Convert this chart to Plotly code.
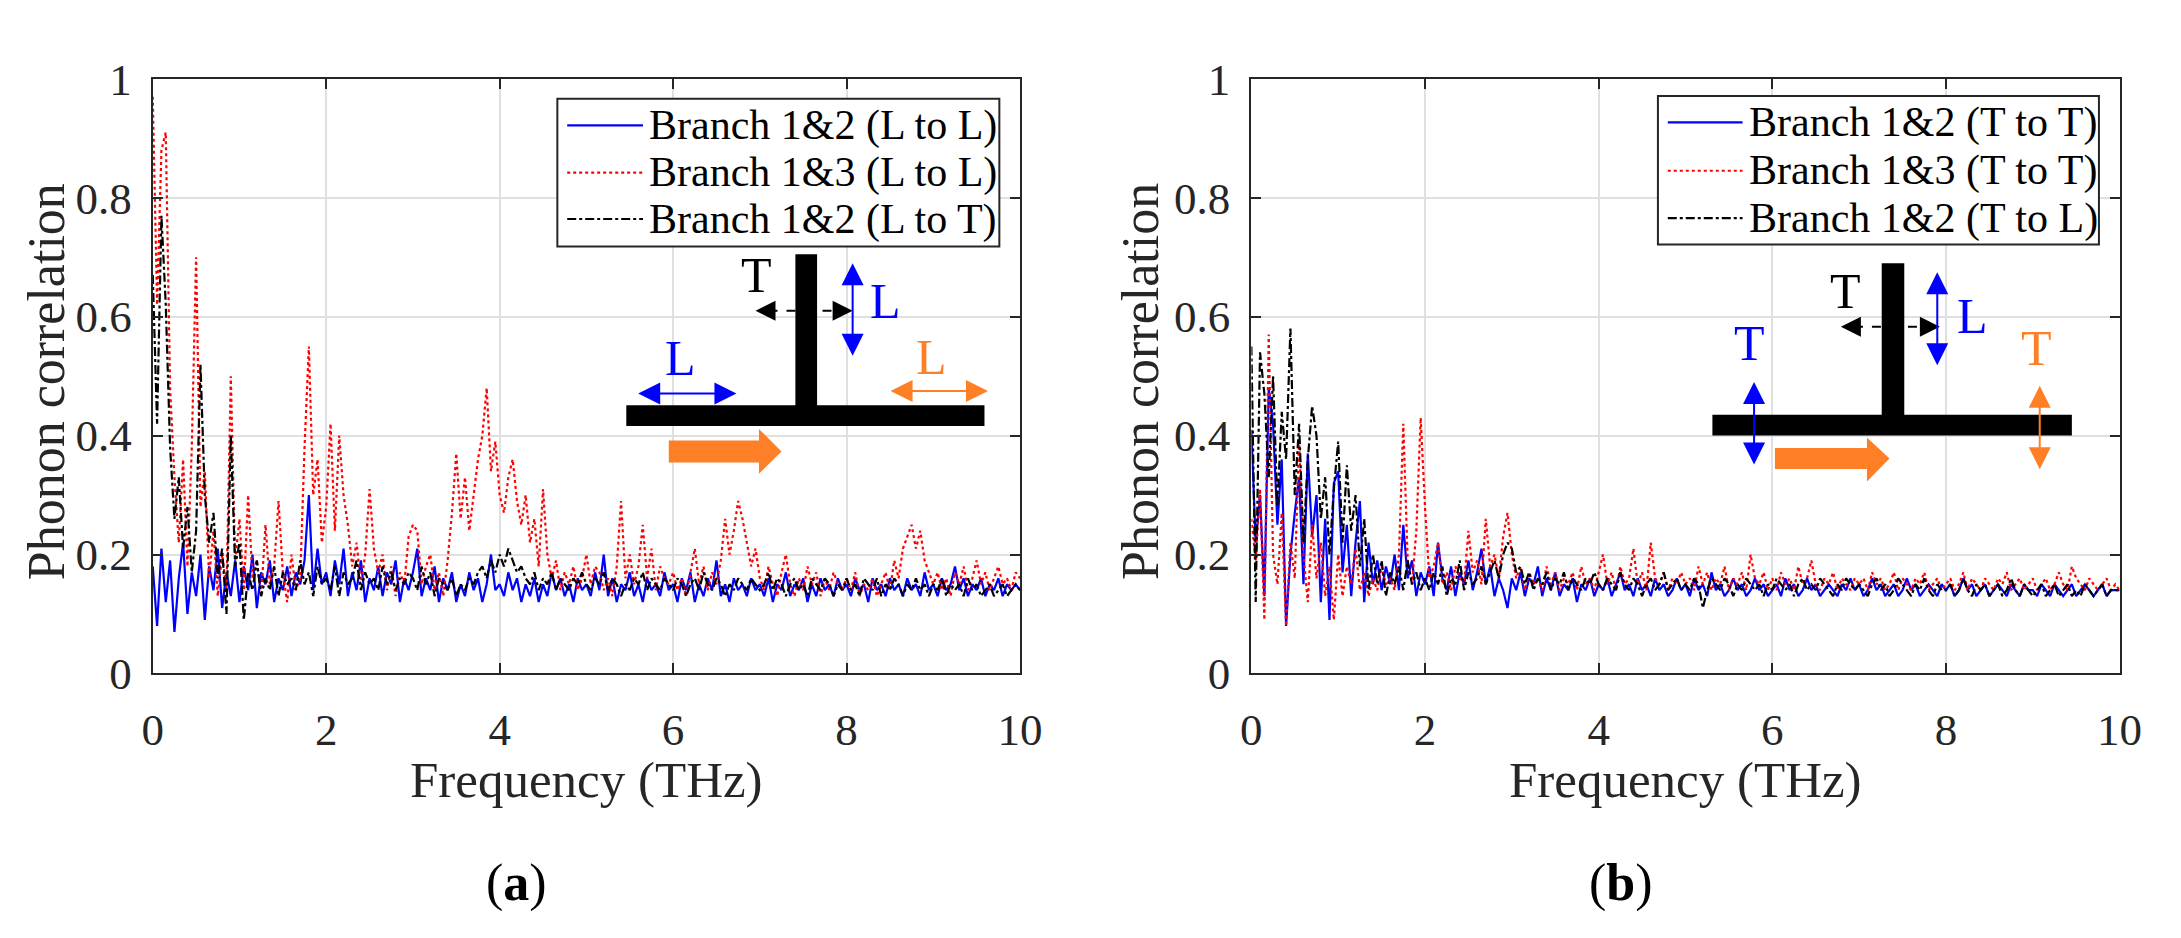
####################################################
# Phonon correlation of a T-junction, two panels  #
####################################################

import numpy as np
import plotly.graph_objects as go

# frequency grid (THz), 0.05 THz steps
freq = np.round(np.arange(0, 10.001, 0.05), 2)

# panel (a): L-polarised incident phonons
blue_a = [  # Branch 1&2 (L to L)
    0.18, 0.08, 0.21, 0.12, 0.19, 0.07, 0.16, 0.22, 0.10, 0.17, 0.13, 0.20, 0.09, 0.18, 0.14, 0.21, 0.11, 0.17, 0.13, 0.19,
    0.12, 0.18, 0.14, 0.20, 0.11, 0.17, 0.15, 0.19, 0.12, 0.16, 0.14, 0.18, 0.13, 0.17, 0.15, 0.19, 0.30, 0.14, 0.21, 0.15,
    0.17, 0.13, 0.19, 0.15, 0.21, 0.13, 0.17, 0.14, 0.19, 0.12, 0.16, 0.14, 0.18, 0.13, 0.17, 0.15, 0.19, 0.12, 0.16, 0.14,
    0.17, 0.21, 0.13, 0.16, 0.14, 0.18, 0.12, 0.16, 0.14, 0.17, 0.12, 0.15, 0.13, 0.17, 0.14, 0.16, 0.12, 0.15, 0.20, 0.14,
    0.15, 0.13, 0.17, 0.14, 0.16, 0.12, 0.15, 0.13, 0.16, 0.12, 0.15, 0.13, 0.17, 0.14, 0.16, 0.13, 0.15, 0.12, 0.16, 0.14,
    0.15, 0.13, 0.17, 0.14, 0.20, 0.13, 0.16, 0.12, 0.15, 0.14, 0.17, 0.13, 0.15, 0.12, 0.16, 0.14, 0.15, 0.13, 0.17, 0.14,
    0.15, 0.12, 0.16, 0.14, 0.17, 0.12, 0.15, 0.13, 0.16, 0.14, 0.19, 0.13, 0.15, 0.12, 0.16, 0.14, 0.15, 0.13, 0.16, 0.14,
    0.15, 0.13, 0.16, 0.12, 0.15, 0.14, 0.17, 0.13, 0.15, 0.14, 0.16, 0.12, 0.15, 0.13, 0.16, 0.14, 0.15, 0.13, 0.16, 0.14,
    0.15, 0.13, 0.16, 0.14, 0.15, 0.12, 0.16, 0.14, 0.15, 0.13, 0.16, 0.14, 0.15, 0.13, 0.16, 0.14, 0.15, 0.13, 0.17, 0.14,
    0.15, 0.13, 0.16, 0.14, 0.15, 0.18, 0.14, 0.16, 0.13, 0.15, 0.14, 0.16, 0.13, 0.15, 0.14, 0.16, 0.13, 0.15, 0.14, 0.15,
    0.14]
red_a = [  # Branch 1&3 (L to L)
    0.97, 0.62, 0.88, 0.91, 0.48, 0.33, 0.22, 0.36, 0.18, 0.38, 0.70, 0.28, 0.34, 0.16, 0.24, 0.13, 0.20, 0.14, 0.50, 0.19,
    0.26, 0.14, 0.30, 0.16, 0.19, 0.13, 0.25, 0.15, 0.18, 0.29, 0.17, 0.12, 0.20, 0.14, 0.16, 0.38, 0.55, 0.30, 0.36, 0.22,
    0.28, 0.42, 0.24, 0.40, 0.30, 0.25, 0.18, 0.22, 0.15, 0.20, 0.31, 0.21, 0.17, 0.20, 0.14, 0.18, 0.13, 0.17, 0.15, 0.23,
    0.25, 0.24, 0.15, 0.18, 0.20, 0.14, 0.17, 0.13, 0.19, 0.27, 0.37, 0.26, 0.33, 0.24, 0.30, 0.36, 0.40, 0.48, 0.34, 0.39,
    0.30, 0.27, 0.33, 0.36, 0.29, 0.25, 0.30, 0.22, 0.26, 0.18, 0.31, 0.20, 0.16, 0.19, 0.14, 0.17, 0.15, 0.18, 0.14, 0.16,
    0.20, 0.15, 0.18, 0.17, 0.14, 0.16, 0.13, 0.18, 0.29, 0.16, 0.20, 0.15, 0.18, 0.25, 0.16, 0.21, 0.14, 0.18, 0.16, 0.15,
    0.17, 0.14, 0.16, 0.13, 0.17, 0.21, 0.15, 0.18, 0.14, 0.17, 0.15, 0.19, 0.26, 0.20, 0.24, 0.29, 0.26, 0.22, 0.18, 0.21,
    0.16, 0.14, 0.18, 0.15, 0.13, 0.17, 0.20, 0.15, 0.13, 0.16, 0.14, 0.18, 0.15, 0.17, 0.13, 0.16, 0.14, 0.17, 0.15, 0.14,
    0.16, 0.14, 0.17, 0.13, 0.15, 0.14, 0.16, 0.13, 0.15, 0.17, 0.14, 0.19, 0.16, 0.21, 0.23, 0.25, 0.21, 0.24, 0.19, 0.17,
    0.15, 0.17, 0.14, 0.16, 0.13, 0.17, 0.15, 0.18, 0.14, 0.16, 0.19, 0.15, 0.17, 0.14, 0.16, 0.18, 0.15, 0.16, 0.14, 0.17,
    0.16]
black_a = [  # Branch 1&2 (L to T)
    0.67, 0.42, 0.77, 0.62, 0.38, 0.26, 0.33, 0.21, 0.28, 0.17, 0.24, 0.52, 0.30, 0.22, 0.27, 0.16, 0.21, 0.10, 0.40, 0.18,
    0.22, 0.09, 0.17, 0.14, 0.19, 0.13, 0.16, 0.14, 0.18, 0.13, 0.17, 0.15, 0.16, 0.14, 0.19, 0.15, 0.17, 0.13, 0.18, 0.15,
    0.16, 0.14, 0.18, 0.13, 0.17, 0.15, 0.16, 0.19, 0.14, 0.17, 0.15, 0.16, 0.14, 0.18, 0.15, 0.17, 0.14, 0.16, 0.15, 0.17,
    0.16, 0.14, 0.18, 0.15, 0.17, 0.13, 0.16, 0.15, 0.14, 0.16, 0.13, 0.15, 0.14, 0.16, 0.15, 0.17, 0.18, 0.16, 0.19, 0.17,
    0.20, 0.18, 0.21, 0.19, 0.17, 0.18, 0.16, 0.15, 0.17, 0.14, 0.16, 0.15, 0.17, 0.14, 0.16, 0.15, 0.14, 0.16, 0.15, 0.17,
    0.15, 0.14, 0.16, 0.15, 0.17, 0.14, 0.16, 0.15, 0.13, 0.15, 0.14, 0.16, 0.15, 0.17, 0.14, 0.16, 0.15, 0.14, 0.16, 0.15,
    0.14, 0.16, 0.15, 0.13, 0.15, 0.16, 0.14, 0.17, 0.15, 0.14, 0.16, 0.15, 0.13, 0.15, 0.14, 0.16, 0.15, 0.14, 0.16, 0.15,
    0.14, 0.15, 0.17, 0.14, 0.16, 0.15, 0.13, 0.15, 0.16, 0.14, 0.15, 0.13, 0.16, 0.15, 0.14, 0.16, 0.15, 0.13, 0.15, 0.14,
    0.16, 0.14, 0.15, 0.13, 0.16, 0.15, 0.14, 0.16, 0.13, 0.15, 0.14, 0.16, 0.15, 0.13, 0.15, 0.14, 0.16, 0.14, 0.15, 0.13,
    0.15, 0.14, 0.16, 0.13, 0.15, 0.14, 0.15, 0.13, 0.16, 0.14, 0.15, 0.13, 0.14, 0.15, 0.13, 0.14, 0.15, 0.13, 0.14, 0.15,
    0.14]

# panel (b): T-polarised incident phonons
blue_b = [  # Branch 1&2 (T to T)
    0.41, 0.22, 0.30, 0.13, 0.48, 0.42, 0.25, 0.36, 0.08, 0.20, 0.27, 0.33, 0.15, 0.37, 0.23, 0.30, 0.12, 0.26, 0.09, 0.32,
    0.34, 0.17, 0.25, 0.13, 0.22, 0.29, 0.12, 0.22, 0.15, 0.19, 0.14, 0.18, 0.15, 0.20, 0.14, 0.25, 0.16, 0.19, 0.13, 0.17,
    0.15, 0.18, 0.13, 0.22, 0.16, 0.14, 0.18, 0.13, 0.17, 0.15, 0.19, 0.14, 0.17, 0.21, 0.15, 0.18, 0.13, 0.16, 0.14, 0.11,
    0.16, 0.14, 0.17, 0.13, 0.16, 0.15, 0.18, 0.13, 0.16, 0.14, 0.17, 0.13, 0.15, 0.14, 0.16, 0.12, 0.15, 0.14, 0.16, 0.13,
    0.15, 0.14, 0.16, 0.13, 0.15, 0.17, 0.14, 0.15, 0.13, 0.16, 0.14, 0.15, 0.13, 0.16, 0.14, 0.15, 0.13, 0.14, 0.16, 0.14,
    0.15, 0.13, 0.16, 0.14, 0.15, 0.13, 0.17, 0.14, 0.15, 0.13, 0.14, 0.16, 0.14, 0.15, 0.13, 0.14, 0.16, 0.14, 0.15, 0.13,
    0.14, 0.15, 0.13, 0.16, 0.14, 0.15, 0.13, 0.14, 0.16, 0.14, 0.15, 0.13, 0.14, 0.15, 0.14, 0.13, 0.15, 0.14, 0.16, 0.14,
    0.15, 0.13, 0.14, 0.16, 0.14, 0.15, 0.13, 0.14, 0.15, 0.13, 0.14, 0.16, 0.14, 0.15, 0.13, 0.14, 0.15, 0.14, 0.13, 0.15,
    0.14, 0.15, 0.13, 0.14, 0.16, 0.14, 0.15, 0.13, 0.14, 0.15, 0.13, 0.14, 0.15, 0.14, 0.13, 0.15, 0.14, 0.13, 0.15, 0.14,
    0.14, 0.13, 0.15, 0.14, 0.13, 0.15, 0.14, 0.13, 0.14, 0.15, 0.13, 0.14, 0.15, 0.14, 0.13, 0.14, 0.15, 0.13, 0.14, 0.14,
    0.14]
red_b = [  # Branch 1&3 (T to T)
    0.26, 0.19, 0.31, 0.09, 0.57, 0.20, 0.15, 0.27, 0.08, 0.22, 0.16, 0.39, 0.20, 0.12, 0.25, 0.16, 0.22, 0.13, 0.18, 0.09,
    0.20, 0.13, 0.18, 0.15, 0.21, 0.14, 0.17, 0.13, 0.16, 0.14, 0.18, 0.15, 0.16, 0.14, 0.20, 0.42, 0.19, 0.15, 0.24, 0.43,
    0.28, 0.16, 0.18, 0.22, 0.15, 0.17, 0.14, 0.18, 0.16, 0.15, 0.24, 0.17, 0.19, 0.15, 0.26, 0.18, 0.20, 0.16, 0.23, 0.27,
    0.20, 0.16, 0.18, 0.14, 0.17, 0.15, 0.16, 0.14, 0.18, 0.15, 0.17, 0.14, 0.16, 0.15, 0.17, 0.14, 0.18, 0.15, 0.16, 0.14,
    0.17, 0.20, 0.15, 0.17, 0.14, 0.18, 0.15, 0.16, 0.21, 0.15, 0.17, 0.14, 0.22, 0.16, 0.15, 0.17, 0.14, 0.16, 0.15, 0.17,
    0.15, 0.16, 0.14, 0.18, 0.15, 0.17, 0.14, 0.16, 0.15, 0.18, 0.14, 0.16, 0.15, 0.17, 0.14, 0.20, 0.16, 0.15, 0.17, 0.14,
    0.16, 0.14, 0.17, 0.15, 0.16, 0.14, 0.18, 0.15, 0.16, 0.19, 0.15, 0.14, 0.16, 0.15, 0.17, 0.14, 0.16, 0.15, 0.14, 0.16,
    0.15, 0.16, 0.14, 0.17, 0.15, 0.16, 0.14, 0.15, 0.17, 0.14, 0.16, 0.15, 0.14, 0.16, 0.15, 0.17, 0.14, 0.15, 0.16, 0.14,
    0.15, 0.16, 0.14, 0.15, 0.17, 0.14, 0.16, 0.15, 0.14, 0.16, 0.15, 0.14, 0.16, 0.15, 0.17, 0.14, 0.15, 0.16, 0.14, 0.15,
    0.16, 0.14, 0.15, 0.16, 0.14, 0.15, 0.17, 0.15, 0.14, 0.18, 0.16, 0.15, 0.14, 0.16, 0.15, 0.14, 0.15, 0.16, 0.14, 0.15,
    0.14]
black_b = [  # Branch 1&2 (T to L)
    0.55, 0.12, 0.54, 0.47, 0.33, 0.50, 0.28, 0.44, 0.36, 0.58, 0.30, 0.42, 0.22, 0.36, 0.45, 0.40, 0.26, 0.33, 0.20, 0.31,
    0.39, 0.22, 0.35, 0.24, 0.30, 0.18, 0.26, 0.14, 0.20, 0.15, 0.19, 0.13, 0.17, 0.15, 0.18, 0.14, 0.19, 0.15, 0.17, 0.14,
    0.16, 0.14, 0.17, 0.15, 0.18, 0.13, 0.16, 0.15, 0.19, 0.14, 0.17, 0.15, 0.16, 0.18, 0.15, 0.17, 0.19, 0.16, 0.20, 0.22,
    0.21, 0.17, 0.18, 0.15, 0.17, 0.14, 0.16, 0.15, 0.17, 0.14, 0.16, 0.15, 0.17, 0.14, 0.16, 0.15, 0.14, 0.16, 0.15, 0.17,
    0.15, 0.14, 0.16, 0.15, 0.14, 0.17, 0.15, 0.14, 0.16, 0.15, 0.13, 0.15, 0.16, 0.14, 0.15, 0.17, 0.14, 0.15, 0.16, 0.14,
    0.15, 0.14, 0.16, 0.15, 0.11, 0.14, 0.16, 0.15, 0.14, 0.16, 0.15, 0.13, 0.15, 0.14, 0.16, 0.15, 0.14, 0.15, 0.13, 0.15,
    0.14, 0.16, 0.15, 0.14, 0.15, 0.13, 0.15, 0.16, 0.14, 0.15, 0.14, 0.16, 0.15, 0.14, 0.13, 0.15, 0.14, 0.16, 0.15, 0.14,
    0.15, 0.14, 0.13, 0.15, 0.16, 0.14, 0.15, 0.13, 0.14, 0.16, 0.15, 0.14, 0.13, 0.15, 0.14, 0.16, 0.14, 0.13, 0.15, 0.14,
    0.14, 0.15, 0.13, 0.14, 0.16, 0.14, 0.13, 0.15, 0.14, 0.15, 0.13, 0.14, 0.15, 0.13, 0.14, 0.16, 0.14, 0.13, 0.15, 0.14,
    0.13, 0.14, 0.15, 0.13, 0.14, 0.15, 0.13, 0.14, 0.15, 0.13, 0.14, 0.13, 0.15, 0.14, 0.13, 0.14, 0.15, 0.13, 0.14, 0.14,
    0.14]

names_a = ['Branch 1&2 (L to L)', 'Branch 1&3 (L to L)', 'Branch 1&2 (L to T)']
names_b = ['Branch 1&2 (T to T)', 'Branch 1&3 (T to T)', 'Branch 1&2 (T to L)']
x_ticks = [0, 2, 4, 6, 8, 10]
y_ticks = [0, 0.2, 0.4, 0.6, 0.8, 1]

for s in [blue_a, red_a, black_a, blue_b, red_b, black_b]:
    assert len(s) == len(freq)

FONT = 'Liberation Serif'
AXC = '#262626'
BLUE = '#0000ff'
RED = '#ff0000'
ORANGE = '#ff7f27'
W, H = 2181, 938

styles = [dict(color=BLUE, width=2.2, dash='solid'),
          dict(color=RED, width=2.2, dash='dot'),
          dict(color='black', width=2.2, dash='dashdot')]

fig = go.Figure()

# curves
for ys, name, st in zip([blue_a, red_a, black_a], names_a, styles):
    fig.add_trace(go.Scatter(x=freq, y=ys, mode='lines', name=name, line=st,
                             xaxis='x', yaxis='y', showlegend=False))
for ys, name, st in zip([blue_b, red_b, black_b], names_b, styles):
    fig.add_trace(go.Scatter(x=freq, y=ys, mode='lines', name=name, line=st,
                             xaxis='x2', yaxis='y2', showlegend=False))


def add_arrow(fig, xr, yr, x0, y0, x1, y1, color, both=True, width=2, size=2.2):
    # thin arrow from (x0,y0) to (x1,y1), heads on both ends if both
    fig.add_annotation(x=x1, y=y1, ax=x0, ay=y0, xref=xr, yref=yr, axref=xr, ayref=yr,
                       text='', showarrow=True, arrowhead=2, startarrowhead=2,
                       arrowsize=size, startarrowsize=size, arrowwidth=width,
                       arrowcolor=color, arrowside='end+start' if both else 'end')


def add_label(fig, xr, yr, x, y, txt, color):
    fig.add_annotation(x=x, y=y, xref=xr, yref=yr, text=txt, showarrow=False,
                       xanchor='center', yanchor='middle',
                       font=dict(family=FONT, size=50, color=color))


def add_tbar(fig, xr, yr, g):
    # T-shaped junction sketch inside a panel
    fig.add_shape(type='rect', xref=xr, yref=yr, x0=g['flange'][0], x1=g['flange'][1],
                  y0=g['flange'][2], y1=g['flange'][3], fillcolor='black', line_width=0, layer='above')
    fig.add_shape(type='rect', xref=xr, yref=yr, x0=g['web'][0], x1=g['web'][1],
                  y0=g['web'][2], y1=g['web'][3], fillcolor='black', line_width=0, layer='above')
    # fat orange arrow (incoming wave)
    bx0, bx1, tip, by0, by1, hy0, hy1 = g['wave']
    yc = (by0 + by1) / 2
    path = (f'M {bx0},{by0} L {bx1},{by0} L {bx1},{hy0} L {tip},{yc} '
            f'L {bx1},{hy1} L {bx1},{by1} L {bx0},{by1} Z')
    fig.add_shape(type='path', xref=xr, yref=yr, path=path, fillcolor=ORANGE,
                  line_width=0, layer='above')
    # dashed black arrow across the web
    dx0, dx1, dy = g['dash']
    fig.add_shape(type='line', xref=xr, yref=yr, x0=dx0 + 0.15, x1=dx1 - 0.15, y0=dy, y1=dy,
                  line=dict(color='black', width=2, dash='dash'), layer='above')
    add_arrow(fig, xr, yr, dx0 + 0.2, dy, dx0, dy, 'black', both=False, size=2.0)
    add_arrow(fig, xr, yr, dx1 - 0.2, dy, dx1, dy, 'black', both=False, size=2.0)
    add_label(fig, xr, yr, g['T'][0], g['T'][1], 'T', 'black')
    for (x0, y0, x1, y1, c) in g['arrows']:
        add_arrow(fig, xr, yr, x0, y0, x1, y1, c)
    for (x, y, t, c) in g['labels']:
        add_label(fig, xr, yr, x, y, t, c)


def add_legend_box(fig, box, names):
    # MATLAB-style legend box, positions in pixels from the top-left corner
    left, top, right, bottom, rows, lx0, lx1, tx = box
    fig.add_shape(type='rect', xref='paper', yref='paper', x0=left / W, x1=right / W,
                  y0=1 - bottom / H, y1=1 - top / H, fillcolor='white',
                  line=dict(color=AXC, width=2), layer='above')
    for ry, name, st in zip(rows, names, styles):
        fig.add_shape(type='line', xref='paper', yref='paper', x0=lx0 / W, x1=lx1 / W,
                      y0=1 - ry / H, y1=1 - ry / H, line=st, layer='above')
        fig.add_annotation(x=tx / W, y=1 - ry / H, xref='paper', yref='paper', text=name,
                           showarrow=False, xanchor='left', yanchor='middle',
                           font=dict(family=FONT, size=42, color='black'))


geo_a = dict(flange=(5.46, 9.59, 0.416, 0.451), web=(7.41, 7.66, 0.449, 0.705),
             wave=(5.95, 6.99, 7.25, 0.355, 0.392, 0.336, 0.411),
             dash=(6.95, 8.07, 0.61), T=(6.96, 0.67),
             arrows=[(8.07, 0.532, 8.07, 0.69, BLUE),
                     (5.58, 0.471, 6.73, 0.471, BLUE),
                     (8.49, 0.475, 9.63, 0.475, ORANGE)],
             labels=[(8.45, 0.627, 'L', BLUE), (6.08, 0.53, 'L', BLUE), (8.98, 0.532, 'L', ORANGE)])
geo_b = dict(flange=(5.31, 9.45, 0.40, 0.435), web=(7.26, 7.52, 0.433, 0.69),
             wave=(6.03, 7.09, 7.35, 0.344, 0.379, 0.323, 0.397),
             dash=(6.79, 7.93, 0.583), T=(6.84, 0.643),
             arrows=[(7.90, 0.516, 7.90, 0.675, BLUE),
                     (5.79, 0.349, 5.79, 0.49, BLUE),
                     (9.08, 0.341, 9.08, 0.484, ORANGE)],
             labels=[(8.31, 0.602, 'L', BLUE), (5.74, 0.556, 'T', BLUE), (9.04, 0.548, 'T', ORANGE)])

add_tbar(fig, 'x', 'y', geo_a)
add_tbar(fig, 'x2', 'y2', geo_b)
add_legend_box(fig, (555, 79, 1004, 235, (107, 157, 206), 565, 642, 646), names_a)
add_legend_box(fig, (1673, 76, 2121, 233, (104, 155, 205), 1683, 1759, 1763), names_b)

# axes
ax_common = dict(range=[0, 10], tickvals=x_ticks, ticks='inside', ticklen=10, tickwidth=2,
                 tickcolor=AXC, showline=True, linewidth=2, linecolor=AXC, mirror='ticks',
                 showgrid=True, gridcolor='#e0e0e0', gridwidth=2, zeroline=False,
                 tickfont=dict(family=FONT, size=45, color=AXC), ticklabelstandoff=16)
ay_common = dict(range=[0, 1], tickvals=y_ticks, ticks='inside', ticklen=10, tickwidth=2,
                 tickcolor=AXC, showline=True, linewidth=2, linecolor=AXC, mirror='ticks',
                 showgrid=True, gridcolor='#e0e0e0', gridwidth=2, zeroline=False,
                 tickfont=dict(family=FONT, size=45, color=AXC), ticklabelstandoff=10,
                 domain=[1 - 686 / H, 1 - 58 / H])

fig.update_layout(
    width=W, height=H, margin=dict(l=0, r=0, t=0, b=0),
    paper_bgcolor='white', plot_bgcolor='white', showlegend=False,
    xaxis=dict(ax_common, domain=[144 / W, 1025 / W], anchor='y'),
    yaxis=dict(ay_common, anchor='x'),
    xaxis2=dict(ax_common, domain=[1260 / W, 2142 / W], anchor='y2'),
    yaxis2=dict(ay_common, anchor='x2'),
)

# axis titles and panel labels
title_font = dict(family=FONT, size=51, color=AXC)
for xc in [(144 + 1025) / 2 / W, (1260 + 2142) / 2 / W]:
    fig.add_annotation(x=xc, y=1 - 799 / H, xref='paper', yref='paper', text='Frequency (THz)',
                       showarrow=False, font=title_font, xanchor='center', yanchor='middle')
for xc in [36 / W, 1148 / W]:
    fig.add_annotation(x=xc, y=1 - 378 / H, xref='paper', yref='paper', text='Phonon correlation',
                       showarrow=False, font=dict(title_font, size=52), textangle=-90,
                       xanchor='center', yanchor='middle')
for xc, lab in [(514 / W, 'a'), (1635 / W, 'b')]:
    fig.add_annotation(x=xc, y=1 - 907 / H, xref='paper', yref='paper', text=f'(<b>{lab}</b>)',
                       showarrow=False, font=dict(family=FONT, size=52, color='black'),
                       xanchor='center', yanchor='middle')

fig.write_html("out.html", config={'displayModeBar': False},
               post_script="document.body.style.margin='0';")
